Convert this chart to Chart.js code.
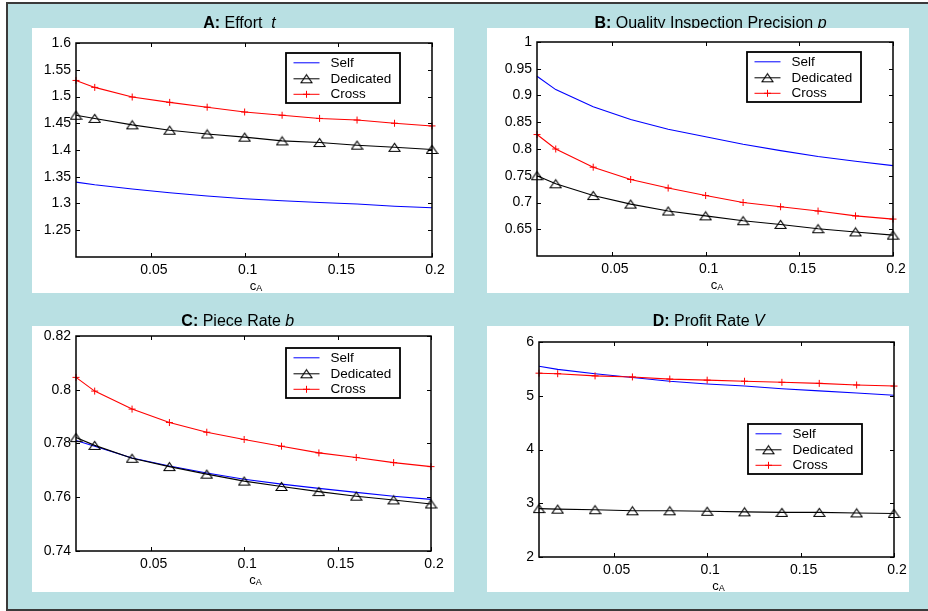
<!DOCTYPE html>
<html><head><meta charset="utf-8">
<script src="https://cdn.jsdelivr.net/npm/chart.js@4.4.1/dist/chart.umd.min.js"></script>
<style>
html,body{margin:0;padding:0;background:#fff;overflow:hidden;width:928px;height:611px;position:relative;}
#frame{position:absolute;left:6px;top:2px;width:940px;height:609px;box-sizing:border-box;background:#b9e0e3;border-top:2px solid #3a3a3a;border-left:2px solid #3a3a3a;border-bottom:2px solid #3a3a3a;}
canvas{position:absolute;left:0;top:0;}
</style></head><body>
<div id="frame"></div>
<canvas id="cA" width="928" height="611"></canvas>
<canvas id="cB" width="928" height="611"></canvas>
<canvas id="cC" width="928" height="611"></canvas>
<canvas id="cD" width="928" height="611"></canvas>
<script>
// ---------------- data ----------------
const cAValues = [0.01,0.02,0.04,0.06,0.08,0.10,0.12,0.14,0.16,0.18,0.20];
const seriesNames = ['Self','Dedicated','Cross'];

const effortSelf      = [1.340,1.335,1.327,1.320,1.314,1.309,1.305,1.302,1.299,1.295,1.292];
const effortDedicated = [1.465,1.459,1.447,1.437,1.430,1.424,1.417,1.414,1.409,1.405,1.401];
const effortCross     = [1.530,1.517,1.499,1.489,1.480,1.471,1.465,1.459,1.456,1.450,1.445];

const precisionSelf      = [0.936,0.911,0.879,0.855,0.837,0.823,0.809,0.797,0.786,0.777,0.769];
const precisionDedicated = [0.750,0.735,0.713,0.697,0.684,0.675,0.666,0.659,0.651,0.645,0.639];
const precisionCross     = [0.827,0.800,0.766,0.743,0.727,0.713,0.700,0.692,0.684,0.675,0.669];

const pieceSelf      = [0.7811,0.7790,0.7746,0.7716,0.7690,0.7667,0.7649,0.7633,0.7618,0.7604,0.7592];
const pieceDedicated = [0.7822,0.7793,0.7745,0.7714,0.7686,0.7660,0.7640,0.7621,0.7604,0.7590,0.7575];
const pieceCross     = [0.8046,0.7995,0.7928,0.7878,0.7842,0.7815,0.7790,0.7765,0.7748,0.7729,0.7714];

const profitSelf      = [5.55,5.49,5.41,5.34,5.27,5.22,5.18,5.13,5.09,5.05,5.01];
const profitDedicated = [2.90,2.89,2.88,2.86,2.86,2.85,2.84,2.83,2.83,2.82,2.81];
const profitCross     = [5.42,5.41,5.37,5.35,5.31,5.29,5.27,5.25,5.23,5.20,5.18];

const xTickLabels      = [0.05,0.1,0.15,0.2];
const effortTicks      = [1.25,1.3,1.35,1.4,1.45,1.5,1.55,1.6];
const precisionTicks   = [0.65,0.7,0.75,0.8,0.85,0.9,0.95,1];
const pieceTicks       = [0.74,0.76,0.78,0.8,0.82];
const profitTicks      = [2,3,4,5,6];

const titleA = [['A:','bold','normal'],[' Effort  ','normal','normal'],['t','normal','italic']];
const titleB = [['B:','bold','normal'],[' Quality Inspection Precision ','normal','normal'],['p','normal','italic']];
const titleC = [['C:','bold','normal'],[' Piece Rate ','normal','normal'],['b','normal','italic']];
const titleD = [['D:','bold','normal'],[' Profit Rate ','normal','normal'],['V','normal','italic']];
const xAxisName = ['c','A'];

// ---------------- styling helpers ----------------
const FAM = "'Liberation Sans', Arial, Helvetica, sans-serif";
const BLUE = '#0000ff', RED = '#ff0000', BLACK = '#000000';

const tri = document.createElement('canvas');
tri.width = 13; tri.height = 11;
(function(){
  const c = tri.getContext('2d');
  c.strokeStyle = '#000'; c.lineWidth = 1.1;
  c.beginPath(); c.moveTo(1,9.5); c.lineTo(12,9.5); c.lineTo(6.5,1.5); c.closePath(); c.stroke();
})();

function pts(ys){ return cAValues.map((x,i)=>({x:x,y:ys[i]})); }

function drawMarker(ctx, kind, x, y){
  if (kind === 'tri') { ctx.drawImage(tri, x - 6.5, y - 5.5); }
  else if (kind === 'plus') {
    ctx.beginPath(); ctx.moveTo(x-3.5,y); ctx.lineTo(x+3.5,y); ctx.moveTo(x,y-3.5); ctx.lineTo(x,y+3.5); ctx.stroke();
  }
}

const decor = {
  id: 'decor',
  beforeDraw(chart, args, o) {
    const ctx = chart.ctx;
    ctx.save();
    // title (drawn under the white panel)
    let total = 0;
    o.title.forEach(s => { ctx.font = `${s[2]} ${s[1]} 16px ${FAM}`; total += ctx.measureText(s[0]).width; });
    let x = o.titleX - total/2;
    ctx.fillStyle = '#000'; ctx.textBaseline = 'alphabetic'; ctx.textAlign = 'left';
    o.title.forEach(s => { ctx.font = `${s[2]} ${s[1]} 16px ${FAM}`; ctx.fillText(s[0], x, o.panel[1] - 0.5); x += ctx.measureText(s[0]).width; });
    // white panel
    ctx.fillStyle = '#fff';
    ctx.fillRect(o.panel[0], o.panel[1], o.panel[2], o.panel[3]);
    ctx.restore();
  },
  afterDraw(chart, args, o) {
    const ctx = chart.ctx, a = chart.chartArea;
    const xs = chart.scales.x, ys = chart.scales.y;
    ctx.save();
    // inward tick marks
    ctx.strokeStyle = '#000'; ctx.lineWidth = 1;
    ctx.beginPath();
    ys.ticks.forEach(t => { const py = Math.round(ys.getPixelForValue(t.value)) + 0.5;
      ctx.moveTo(a.left, py); ctx.lineTo(a.left + 4, py); ctx.moveTo(a.right - 4, py); ctx.lineTo(a.right, py); });
    xs.ticks.forEach(t => { const px = Math.round(xs.getPixelForValue(t.value)) + 0.5;
      ctx.moveTo(px, a.bottom); ctx.lineTo(px, a.bottom - 4); ctx.moveTo(px, a.top); ctx.lineTo(px, a.top + 4); });
    ctx.stroke();
    // axes box
    ctx.lineWidth = 1.5;
    ctx.strokeRect(a.left, a.top, a.right - a.left, a.bottom - a.top);
    // x axis name c_A
    ctx.fillStyle = '#000'; ctx.textAlign = 'left'; ctx.textBaseline = 'alphabetic';
    ctx.font = `13px ${FAM}`; const wc = ctx.measureText(xAxisName[0]).width;
    ctx.font = `9px ${FAM}`; const wa = ctx.measureText(xAxisName[1]).width;
    const cx = (a.left + a.right)/2 + 2 - (wc + wa)/2;
    ctx.font = `13px ${FAM}`; ctx.fillText(xAxisName[0], cx, a.bottom + 32.5);
    ctx.font = `9px ${FAM}`; ctx.fillText(xAxisName[1], cx + wc, a.bottom + 34);
    // legend
    const L = o.legend;
    ctx.fillStyle = '#fff'; ctx.fillRect(L[0], L[1], L[2], L[3]);
    ctx.lineWidth = 1.8; ctx.strokeStyle = '#000'; ctx.strokeRect(L[0], L[1], L[2], L[3]);
    const rows = [9.8, 25.8, 41.3];
    const cols = [BLUE, BLACK, RED], marks = [null, 'tri', 'plus'];
    chart.data.datasets.forEach((d, i) => {
      const y = L[1] + rows[i];
      ctx.strokeStyle = cols[i]; ctx.lineWidth = 1;
      ctx.beginPath(); ctx.moveTo(L[0] + 7.5, y); ctx.lineTo(L[0] + 33.5, y); ctx.stroke();
      if (marks[i]) drawMarker(ctx, marks[i], L[0] + 20.5, y);
      ctx.fillStyle = '#000'; ctx.font = `13.5px ${FAM}`; ctx.textBaseline = 'middle';
      ctx.fillText(d.label, L[0] + 44.5, y);
    });
    ctx.restore();
  }
};

function makeChart(id, series, yMin, yMax, yTicks, area, decorOpts) {
  const W = 928, H = 611, YW = 40, XH = 30;
  return new Chart(document.getElementById(id), {
    type: 'line',
    data: { datasets: [
      { label: seriesNames[0], data: pts(series[0]), borderColor: BLUE, borderWidth: 1.1, pointRadius: 0, order: 2, clip: false },
      { label: seriesNames[1], data: pts(series[1]), borderColor: BLACK, borderWidth: 1.1, pointStyle: tri, pointRadius: 5, order: 1, clip: false },
      { label: seriesNames[2], data: pts(series[2]), borderColor: RED, borderWidth: 1.1, pointStyle: 'cross', pointRadius: 3.5, pointBorderColor: RED, pointBorderWidth: 1, order: 0, clip: false }
    ]},
    options: {
      responsive: false, animation: false, devicePixelRatio: 1, events: [],
      layout: { padding: { left: area[0] - YW, top: area[1], right: W - area[2], bottom: H - area[3] - XH } },
      elements: { line: { tension: 0 } },
      plugins: { legend: { display: false }, tooltip: { enabled: false }, decor: decorOpts },
      scales: {
        x: { type: 'linear', min: 0.01, max: 0.2,
             grid: { display: false, drawTicks: false }, border: { display: false },
             ticks: { autoSkip: false, font: { family: FAM, size: 14 }, color: '#000', padding: 5, labelOffset: 3, maxRotation: 0, callback: v => String(v) },
             afterBuildTicks: s => { s.ticks = xTickLabels.map(v => ({ value: v })); },
             afterFit: s => { s.height = XH; } },
        y: { type: 'linear', min: yMin, max: yMax,
             grid: { display: false, drawTicks: false }, border: { display: false },
             ticks: { autoSkip: false, font: { family: FAM, size: 14 }, color: '#000', padding: 5, callback: v => String(v) },
             afterBuildTicks: s => { s.ticks = yTicks.map(v => ({ value: v })); },
             afterFit: s => { s.width = YW; } }
      }
    },
    plugins: [decor]
  });
}

makeChart('cA', [effortSelf, effortDedicated, effortCross], 1.2, 1.6, effortTicks, [76, 43, 432, 257],
  { title: titleA, titleX: 239.5, panel: [32, 28, 422, 265], legend: [286, 53, 114, 50] });
makeChart('cB', [precisionSelf, precisionDedicated, precisionCross], 0.6, 1.0, precisionTicks, [537, 42, 893, 256],
  { title: titleB, titleX: 710.5, panel: [487, 28, 422, 265], legend: [747, 52, 114, 50] });
makeChart('cC', [pieceSelf, pieceDedicated, pieceCross], 0.74, 0.82, pieceTicks, [76, 336, 431, 551],
  { title: titleC, titleX: 237.8, panel: [32, 326, 422, 266], legend: [286, 348, 114, 50] });
makeChart('cD', [profitSelf, profitDedicated, profitCross], 2, 6, profitTicks, [539, 342, 894, 557],
  { title: titleD, titleX: 708.7, panel: [487, 326, 422, 266], legend: [748, 424, 114, 50] });
</script>
</body></html>
